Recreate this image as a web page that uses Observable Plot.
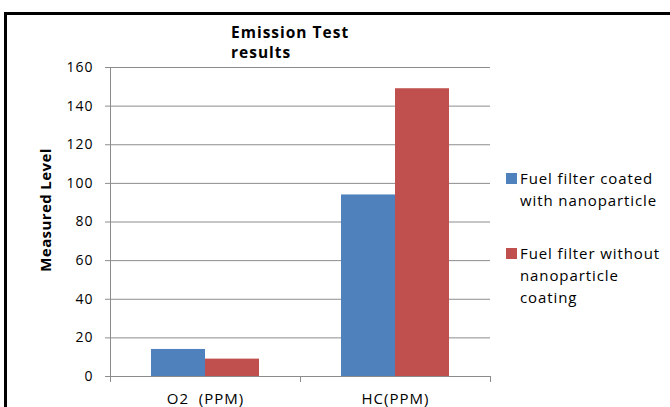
<!DOCTYPE html>
<html>
<head>
<meta charset="utf-8">
<script src="https://cdn.jsdelivr.net/npm/d3@7"></script>
<script src="https://cdn.jsdelivr.net/npm/@observablehq/plot@0.6"></script>
<style>
  html, body { margin: 0; padding: 0; background: #fff; }
  #wrap { position: relative; width: 670px; height: 407px; overflow: hidden; font-family: "Open Sans", Lato, sans-serif; color: #000; }
  #frame { position: absolute; left: 4px; top: 12px; width: 700px; height: 440px; border: 3px solid #000; box-sizing: border-box; pointer-events: none; }
  #title { position: absolute; left: 231px; top: 22px; font-weight: bold; font-size: 15.5px; letter-spacing: 1px; line-height: 20px; white-space: nowrap; }
  #ylabel { position: absolute; left: 45px; top: 210px; transform: translate(-50%, -50%) rotate(-90deg); font-weight: bold; font-size: 15px; letter-spacing: 0.4px; line-height: 20px; white-space: nowrap; }
  #legend { position: absolute; left: 506px; top: 166.5px; font-size: 15px; letter-spacing: 0.9px; line-height: 22px; white-space: nowrap; }
  .item { position: relative; padding-left: 14px; margin-bottom: 31px; }
  .sw { position: absolute; left: 0; top: 6.5px; width: 11px; height: 11px; }
  #chart { position: absolute; left: 0; top: 0; }
  #chart g[aria-label="y-axis tick label"] text { letter-spacing: 1px; }
  #chart g[aria-label="fx-axis tick label"] text { letter-spacing: 1px; }
</style>
</head>
<body>
<div id="wrap">
  <div id="chart"></div>
  <div id="title">Emission Test<br>results</div>
  <div id="ylabel">Measured Level</div>
  <div id="legend"></div>
  <div id="frame"></div>
</div>
<script>
const categories = ["O2  (PPM)", "HC(PPM)"];
const series = ["Fuel filter coated with nanoparticle", "Fuel filter without nanoparticle coating"];
const seriesLines = [["Fuel filter coated", "with nanoparticle"], ["Fuel filter without", "nanoparticle", "coating"]];
const coatedValues = [14, 94];
const uncoatedValues = [9, 149];
const colors = ["#4F81BD", "#C0504D"];
const yTicks = [0, 20, 40, 60, 80, 100, 120, 140, 160];

const data = [];
categories.forEach((c, i) => {
  data.push({category: c, series: series[0], value: coatedValues[i]});
  data.push({category: c, series: series[1], value: uncoatedValues[i]});
});

const W = 670, H = 407, mL = 110, mR = 180, mT = 67, mB = 31;
const gray = "#8c8c8c";

const chart = Plot.plot({
  width: W, height: H,
  marginLeft: mL, marginRight: mR, marginTop: mT, marginBottom: mB,
  style: {fontFamily: "'Open Sans', Lato, sans-serif", fontSize: "14px", color: "#000", background: "transparent", overflow: "visible"},
  fx: {domain: categories, padding: 0, label: null},
  x: {domain: series, paddingInner: 0, paddingOuter: 0.745, axis: null},
  y: {domain: [0, 160], ticks: yTicks},
  color: {domain: series, range: colors},
  marks: [
    Plot.gridY(yTicks, {stroke: gray, strokeOpacity: 1, strokeWidth: 1}),
    Plot.barY(data, {fx: "category", x: "series", y: "value", fill: "series"}),
    Plot.ruleY([0], {stroke: gray, strokeWidth: 1}),
    Plot.frame({anchor: "left", facetAnchor: "left", stroke: gray, strokeOpacity: 1, insetBottom: -5}),
    Plot.frame({anchor: "right", stroke: gray, strokeOpacity: 1, insetTop: H - mT - mB, insetBottom: -5}),
    Plot.axisY(yTicks, {tickSize: 5, tickPadding: 12, stroke: gray, label: null, fill: "#000", fontSize: 14}),
    Plot.axisFx({anchor: "bottom", tickSize: 0, tickPadding: 17, label: null, fontSize: 15})
  ]
});
document.getElementById("chart").appendChild(chart);

const legend = document.getElementById("legend");
series.forEach((s, i) => {
  const item = document.createElement("div");
  item.className = "item";
  const sw = document.createElement("div");
  sw.className = "sw";
  sw.style.background = colors[i];
  item.appendChild(sw);
  seriesLines[i].forEach(line => {
    const d = document.createElement("div");
    d.textContent = line;
    item.appendChild(d);
  });
  legend.appendChild(item);
});
</script>
</body>
</html>
